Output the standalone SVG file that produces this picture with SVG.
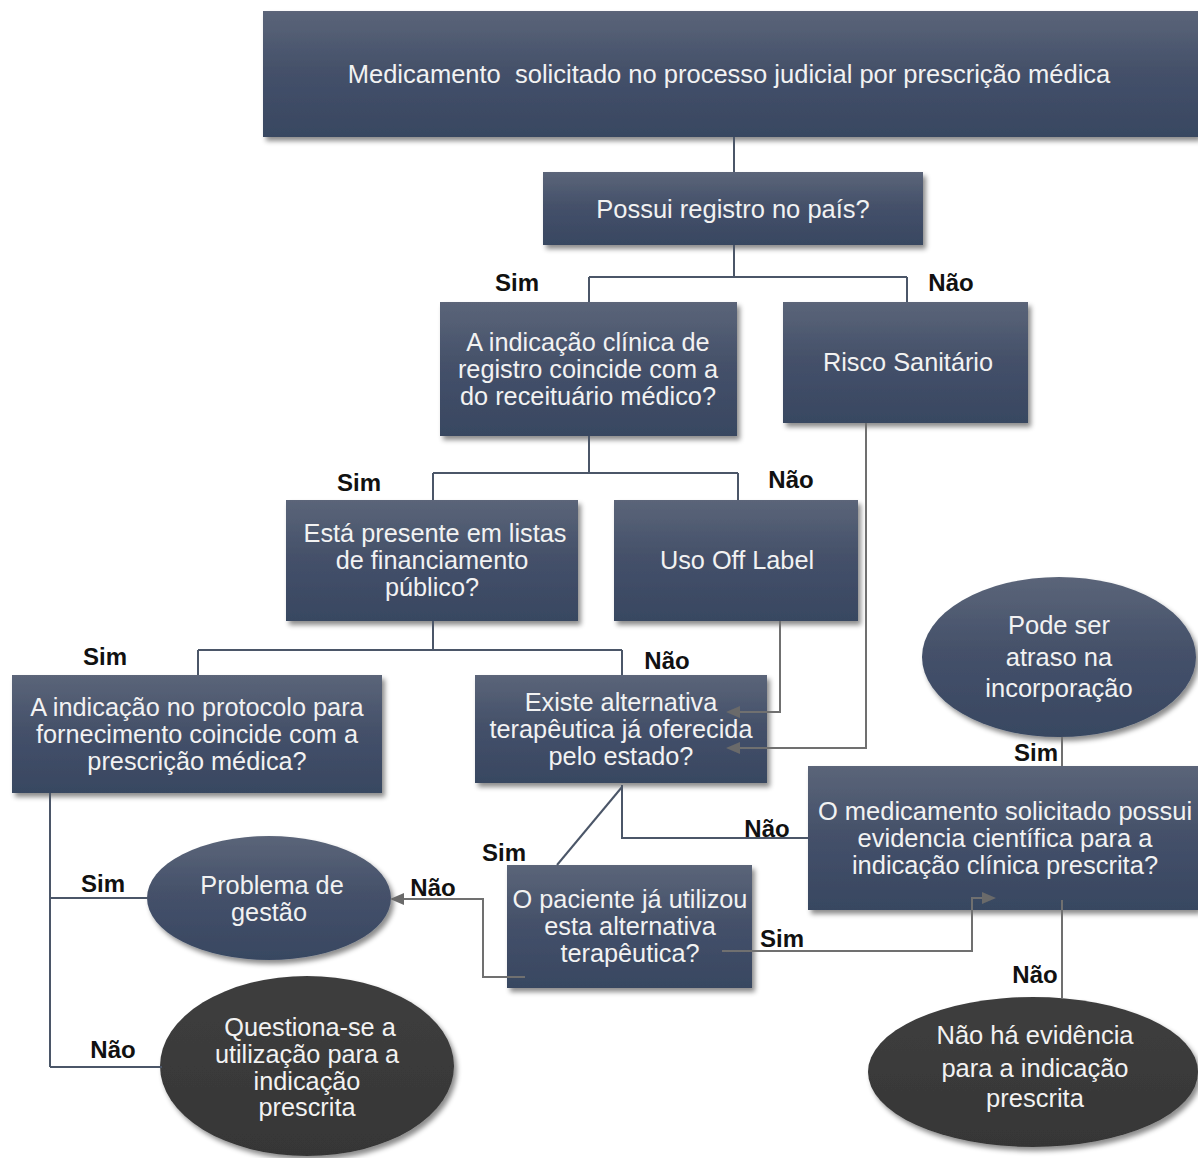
<svg xmlns="http://www.w3.org/2000/svg" width="1198" height="1158" viewBox="0 0 1198 1158">
<defs>
<linearGradient id="gb" x1="0" y1="0" x2="0" y2="1">
<stop offset="0" stop-color="#5b6579"/>
<stop offset="0.45" stop-color="#45516a"/>
<stop offset="1" stop-color="#384761"/>
</linearGradient>
<linearGradient id="gd" x1="0" y1="0" x2="0" y2="1">
<stop offset="0" stop-color="#3e3e3e"/>
<stop offset="1" stop-color="#363636"/>
</linearGradient>
<filter id="sh" x="-10%" y="-10%" width="125%" height="130%">
<feDropShadow dx="3" dy="4" stdDeviation="2.5" flood-color="#000" flood-opacity="0.45"/>
</filter>
<marker id="ar" markerWidth="14" markerHeight="12" refX="12" refY="6" orient="auto" markerUnits="userSpaceOnUse">
<path d="M0,0 L14,6 L0,12 Z" fill="#6a6a6a"/>
</marker>
<style>
.box{fill:url(#gb);filter:url(#sh)}
.dk{fill:url(#gd);filter:url(#sh)}
.t{font-family:"Liberation Sans",Arial,sans-serif;font-size:25.5px;fill:#f2f2f2;text-anchor:middle}
.n{font-family:"Liberation Sans",Arial,sans-serif;font-size:25.3px;fill:#f2f2f2;text-anchor:middle}
.l{font-family:"Liberation Sans",Arial,sans-serif;font-size:24px;font-weight:bold;fill:#111;text-anchor:middle}
.c{fill:none;stroke:#4b5668;stroke-width:2}
.g{fill:none;stroke:#707070;stroke-width:2}
</style>
</defs>
<rect width="1198" height="1158" fill="#fff"/>

<g id="n1"><rect class="box" x="263" y="11" width="935" height="126"/>
<text class="t" x="729" y="83" xml:space="preserve">Medicamento  solicitado no processo judicial por prescrição médica</text></g>

<g id="n2"><rect class="box" x="543" y="172" width="380" height="73"/>
<text class="t" x="733" y="218">Possui registro no país?</text></g>

<g id="n3"><rect class="box" x="440" y="302" width="297" height="134"/>
<text class="n" x="588" y="351">A indicação clínica de</text>
<text class="n" x="588" y="378">registro coincide com a</text>
<text class="n" x="588" y="405">do receituário médico?</text></g>

<g id="n4"><rect class="box" x="783" y="302" width="245" height="121"/>
<text class="n" x="908" y="371">Risco Sanitário</text></g>

<g id="n5"><rect class="box" x="286" y="500" width="292" height="121"/>
<text class="n" x="435" y="542">Está presente em listas</text>
<text class="n" x="432" y="569">de financiamento</text>
<text class="n" x="432" y="596">público?</text></g>

<g id="n6"><rect class="box" x="614" y="500" width="244" height="121"/>
<text class="n" x="737" y="569">Uso Off Label</text></g>

<g id="n7"><rect class="box" x="12" y="675" width="370" height="118"/>
<text class="n" x="197" y="716">A indicação no protocolo para</text>
<text class="n" x="197" y="743">fornecimento coincide com a</text>
<text class="n" x="197" y="770">prescrição médica?</text></g>

<g id="n8"><rect class="box" x="475" y="675" width="292" height="108"/>
<text class="n" x="621" y="711">Existe alternativa</text>
<text class="n" x="621" y="738">terapêutica já oferecida</text>
<text class="n" x="621" y="765">pelo estado?</text></g>

<g id="n9"><ellipse class="box" cx="1059" cy="657" rx="137" ry="80"/>
<text class="t" x="1059" y="634">Pode ser</text>
<text class="t" x="1059" y="666">atraso na</text>
<text class="t" x="1059" y="697">incorporação</text></g>

<g id="n10"><rect class="box" x="808" y="766" width="390" height="144"/>
<text class="t" x="1005" y="820">O medicamento solicitado possui</text>
<text class="t" x="1005" y="847">evidencia científica para a</text>
<text class="t" x="1005" y="874">indicação clínica prescrita?</text></g>

<g id="n11"><rect class="box" x="507" y="865" width="245" height="123"/>
<text class="n" x="630" y="908">O paciente já utilizou</text>
<text class="n" x="630" y="935">esta alternativa</text>
<text class="n" x="630" y="962">terapêutica?</text></g>

<g id="n12"><ellipse class="box" cx="269" cy="898" rx="122" ry="62"/>
<text class="n" x="272" y="894">Problema de</text>
<text class="n" x="269" y="921">gestão</text></g>

<g id="n13"><ellipse class="dk" cx="307" cy="1066" rx="147" ry="90"/>
<text class="n" x="310" y="1036">Questiona-se a</text>
<text class="n" x="307" y="1063">utilização para a</text>
<text class="n" x="307" y="1090">indicação</text>
<text class="n" x="307" y="1116">prescrita</text></g>

<g id="n14"><ellipse class="dk" cx="1033" cy="1072" rx="165" ry="75"/>
<text class="t" x="1035" y="1044">Não há evidência</text>
<text class="t" x="1035" y="1077">para a indicação</text>
<text class="t" x="1035" y="1107">prescrita</text></g>

<g id="connectors">
<path class="c" d="M734,137 V172"/>
<path class="c" d="M734,245 V277 M589,277 H907 M589,277 V302 M907,277 V302"/>
<path class="c" d="M589,436 V473 M433,473 H738 M433,473 V500 M738,473 V500"/>
<path class="c" d="M433,621 V650 M198,650 H622 M198,650 V675 M622,650 V675"/>
<path class="g" d="M780,621 V712 H728" marker-end="url(#ar)"/>
<path class="g" d="M866,423 V748 H728" marker-end="url(#ar)"/>
<path class="c" d="M622,785 V838 H808"/>
<path class="c" d="M622,787 L557,865"/>
<path class="g" d="M1062,737 V766"/>
<path class="g" d="M722,951 H972 V898 H994" marker-end="url(#ar)"/>
<path class="g" d="M525,977 H483 V899 H392" marker-end="url(#ar)"/>
<path class="c" d="M50,793 V1067 M50,898 H148 M50,1067 H162"/>
<path class="g" d="M1062,900 V998"/>
</g>

<g id="labels">
<text class="l" x="517" y="291">Sim</text>
<text class="l" x="951" y="291">Não</text>
<text class="l" x="359" y="491">Sim</text>
<text class="l" x="791" y="488">Não</text>
<text class="l" x="105" y="665">Sim</text>
<text class="l" x="667" y="669">Não</text>
<text class="l" x="504" y="861">Sim</text>
<text class="l" x="767" y="837">Não</text>
<text class="l" x="433" y="896">Não</text>
<text class="l" x="103" y="892">Sim</text>
<text class="l" x="113" y="1058">Não</text>
<text class="l" x="782" y="947">Sim</text>
<text class="l" x="1036" y="761">Sim</text>
<text class="l" x="1035" y="983">Não</text>
</g>
</svg>
